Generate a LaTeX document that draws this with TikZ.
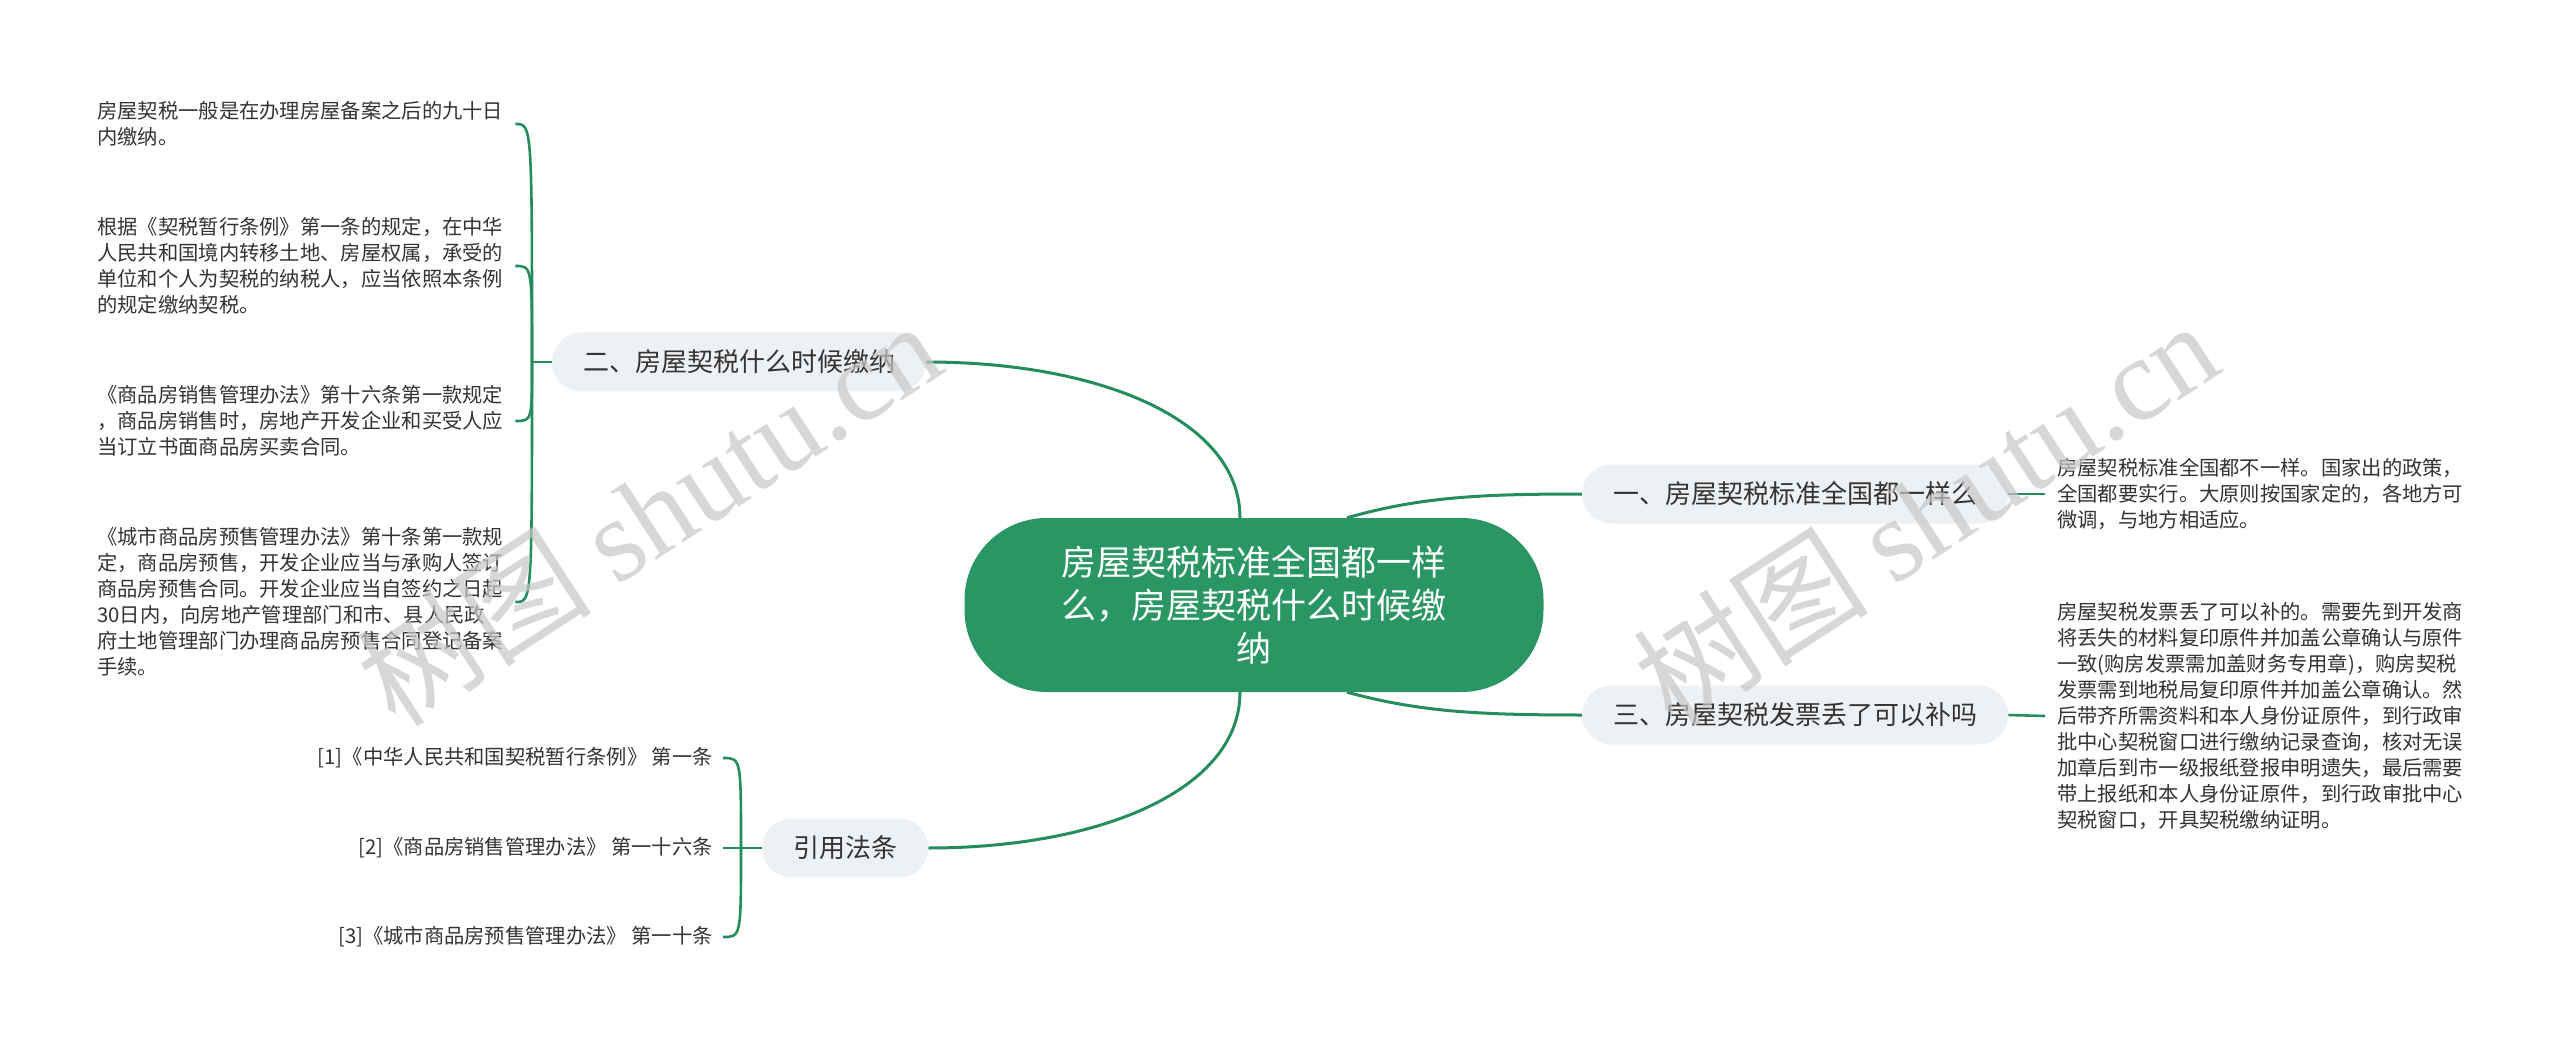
\documentclass[tikz,border=0pt]{standalone}
\usepackage{fontspec}
\setmainfont{Noto Sans CJK SC}
\newfontfamily\wmlatin{Liberation Serif}
\usetikzlibrary{backgrounds}
\definecolor{lineg}{HTML}{258C5E}
\definecolor{maing}{HTML}{299664}
\definecolor{branchbg}{HTML}{EEF1F4}
\definecolor{txt}{HTML}{333333}
\begin{document}
\begin{tikzpicture}[x=1pt,y=-1pt,
  mainnode/.style={fill=maing, text=white, rounded corners=82pt, minimum width=579pt, minimum height=174pt, align=center, font=\fontsize{35}{43}\selectfont, inner sep=0pt},
  branch/.style={anchor=west, fill=branchbg, text=txt, rounded corners=29pt, minimum height=59pt, inner xsep=31pt, inner ysep=0pt, font=\fontsize{26}{30}\selectfont},
  leafL/.style={anchor=west, text=txt, align=left, text width=418pt, inner xsep=0pt, inner ysep=0pt, font=\fontsize{20.3}{26}\selectfont},
  leafR/.style={anchor=west, text=txt, align=left, text width=420pt, inner xsep=12pt, inner ysep=0pt, font=\fontsize{20.3}{26}\selectfont},
  refleaf/.style={anchor=east, text=txt, inner xsep=10pt, inner ysep=0pt, font=\fontsize{20.3}{26}\selectfont},
  conn/.style={draw=lineg, line width=3pt},
  sub/.style={draw=lineg, line width=2.6pt},
  wm/.style={rotate=33, text=black!22, opacity=0.7, inner sep=0pt, font=\fontsize{118}{118}\selectfont},
]
\useasboundingbox (0,0) rectangle (2560,1048);

% nodes
\node[mainnode] (main) at (1254,605) {房屋契税标准全国都一样\\么，房屋契税什么时候缴\\纳};
\node[branch] (b2) at (552,362) {二、房屋契税什么时候缴纳};
\node[branch] (b1) at (1582,494) {一、房屋契税标准全国都一样么};
\node[branch] (b3) at (1582,715) {三、房屋契税发票丢了可以补吗};
\node[branch] (ref) at (762,848) {引用法条};

\node[leafL] (l1) at (97,124) {房屋契税一般是在办理房屋备案之后的九十日\\内缴纳。};
\node[leafL] (l2) at (97,266) {根据《契税暂行条例》第一条的规定，在中华\\人民共和国境内转移土地、房屋权属，承受的\\单位和个人为契税的纳税人，应当依照本条例\\的规定缴纳契税。};
\node[leafL] (l3) at (97,421) {《商品房销售管理办法》第十六条第一款规定\\，商品房销售时，房地产开发企业和买受人应\\当订立书面商品房买卖合同。};
\node[leafL] (l4) at (97,602) {《城市商品房预售管理办法》第十条第一款规\\定，商品房预售，开发企业应当与承购人签订\\商品房预售合同。开发企业应当自签约之日起\\30日内，向房地产管理部门和市、县人民政\\府土地管理部门办理商品房预售合同登记备案\\手续。};

\node[leafR] (rl1) at (2045,494) {房屋契税标准全国都不一样。国家出的政策，\\全国都要实行。大原则按国家定的，各地方可\\微调，与地方相适应。};
\node[leafR] (rl3) at (2045,716) {房屋契税发票丢了可以补的。需要先到开发商\\将丢失的材料复印原件并加盖公章确认与原件\\一致(购房发票需加盖财务专用章)，购房契税\\发票需到地税局复印原件并加盖公章确认。然\\后带齐所需资料和本人身份证原件，到行政审\\批中心契税窗口进行缴纳记录查询，核对无误\\加章后到市一级报纸登报申明遗失，最后需要\\带上报纸和本人身份证原件，到行政审批中心\\契税窗口，开具契税缴纳证明。};

\node[refleaf] (r1) at (723,758) {[1]《中华人民共和国契税暂行条例》 第一条};
\node[refleaf] (r2) at (723,848) {[2]《商品房销售管理办法》 第一十六条};
\node[refleaf] (r3) at (723,937) {[3]《城市商品房预售管理办法》 第一十条};

% junctions
\coordinate (lj) at (532,362);
\coordinate (rj) at (741,848);

\begin{scope}[on background layer]
\fill[white] (0,0) rectangle (2560,1048);
% main connectors
\draw[conn] (b2.east) .. controls (1100,362) and (1240,420) .. ([xshift=-14pt]main.north);
\draw[conn] (ref.east) .. controls (1100,848) and (1240,790) .. ([xshift=-14pt]main.south);
\draw[conn] ([xshift=93pt]main.north) .. controls (1420,497) and (1480,494) .. (b1.west);
\draw[conn] ([xshift=93pt]main.south) .. controls (1420,712) and (1480,715) .. (b3.west);

% left sub connectors
\draw[sub] (b2.west) -- (lj);
\draw[sub] (lj) .. controls (lj |- l1.east) .. (l1.east);
\draw[sub] (lj) .. controls (lj |- l2.east) .. (l2.east);
\draw[sub] (lj) .. controls (lj |- l3.east) .. (l3.east);
\draw[sub] (lj) .. controls (lj |- l4.east) .. (l4.east);

% reference connectors
\draw[sub] (ref.west) -- (rj);
\draw[sub] (rj) .. controls (rj |- r1.east) .. (r1.east);
\draw[sub] (rj) -- (r2.east);
\draw[sub] (rj) .. controls (rj |- r3.east) .. (r3.east);

% right sub connectors
\draw[sub] (b1.east) -- (rl1.west);
\draw[sub] (b3.east) -- (rl3.west);
\end{scope}

% watermarks
\node[wm] (wm1) at (648,512) {树图 {\wmlatin shutu.cn}};
\node[wm] (wm2) at (1925,512) {树图 {\wmlatin shutu.cn}};
\end{tikzpicture}
\end{document}
